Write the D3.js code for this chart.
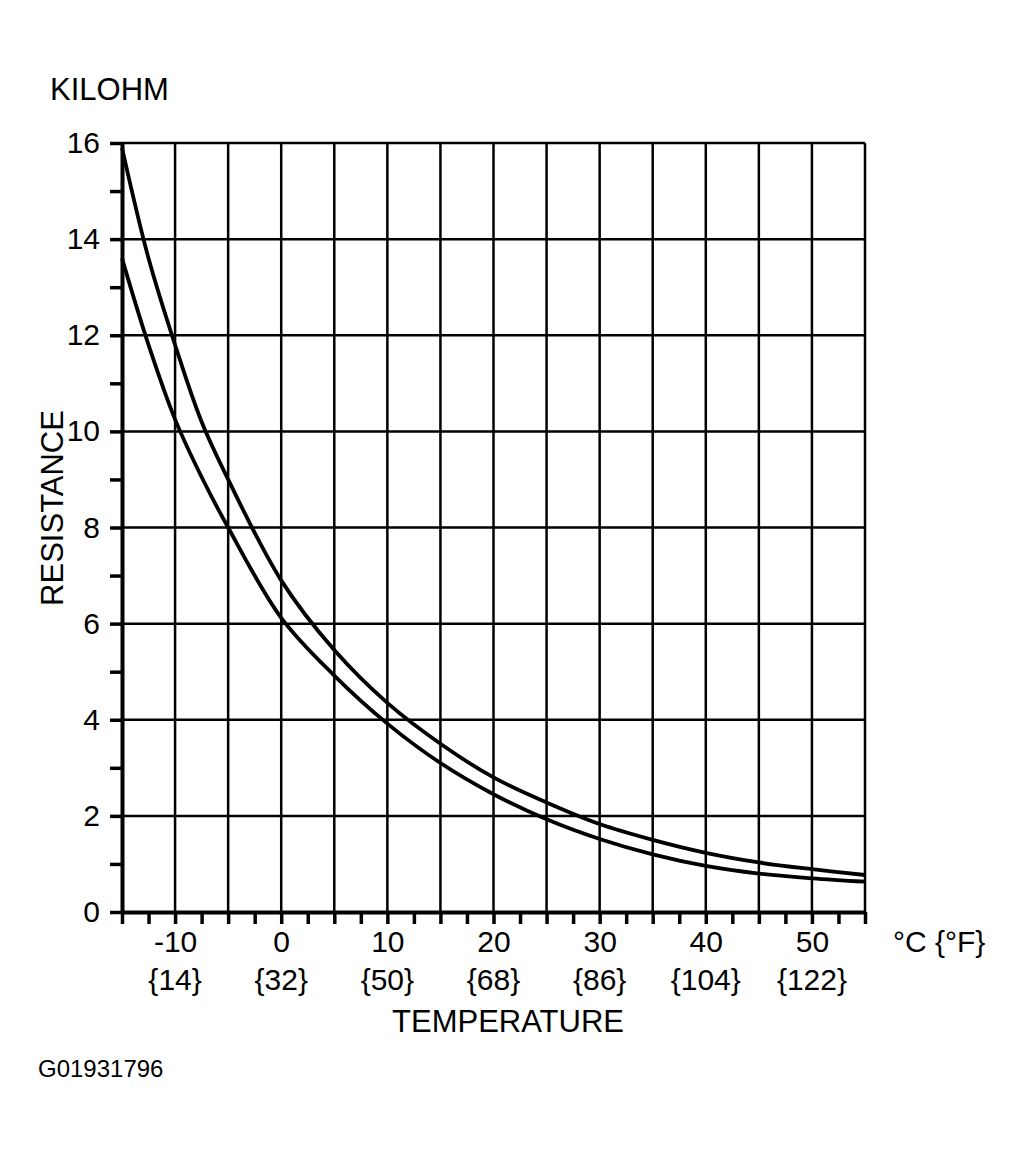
<!DOCTYPE html>
<html>
<head>
<meta charset="utf-8">
<script src="https://cdn.jsdelivr.net/npm/d3@7"></script>
<style>
  body { margin: 0; background: #fff; }
  text { font-family: "Liberation Sans", Arial, sans-serif; fill: #000; }
</style>
</head>
<body>
<div id="chart"></div>
<script>
// temperature (°C) and resistance (kilohm)
const tempC = [-15, -12.5, -10, -7.5, -5, 0, 5, 10, 15, 20, 25, 30, 35, 40, 45, 50, 55];
const upperK = [15.9, 13.6, 11.8, 10.2, 9.0, 6.9, 5.45, 4.35, 3.5, 2.8, 2.28, 1.83, 1.5, 1.23, 1.03, 0.89, 0.77];
const lowerK = [13.6, 11.8, 10.25, 9.05, 8.0, 6.12, 4.92, 3.92, 3.1, 2.45, 1.93, 1.52, 1.2, 0.96, 0.8, 0.7, 0.63];

const cTicks = [-10, 0, 10, 20, 30, 40, 50];
const fLabels = ["{14}", "{32}", "{50}", "{68}", "{86}", "{104}", "{122}"];

const margin = { top: 143, right: 163, bottom: 240, left: 122 },
    width = 1028 - margin.left - margin.right,
    height = 1152 - margin.top - margin.bottom;

const svg = d3.select("#chart").append("svg")
    .attr("width", 1028)
    .attr("height", 1152);

const g = svg.append("g")
    .attr("transform", "translate(" + margin.left + "," + margin.top + ")");

const x = d3.scaleLinear().domain([-15, 55]).range([0, width]);
const y = d3.scaleLinear().domain([0, 16]).range([height, 0]);

// grid
g.append("g").selectAll("line")
    .data(d3.range(-10, 56, 5))
    .enter().append("line")
    .attr("x1", d => x(d)).attr("x2", d => x(d))
    .attr("y1", y(0)).attr("y2", y(16))
    .attr("stroke", "#000").attr("stroke-width", 2.5);

g.append("g").selectAll("line")
    .data(d3.range(2, 17, 2))
    .enter().append("line")
    .attr("x1", 0).attr("x2", width)
    .attr("y1", d => y(d)).attr("y2", d => y(d))
    .attr("stroke", "#000").attr("stroke-width", 2.5);

// axes
const yAxis = d3.axisLeft(y)
    .tickValues(d3.range(0, 16.1, 1))
    .tickSizeInner(12).tickSizeOuter(0).tickPadding(10)
    .tickFormat(d => d % 2 === 0 ? d : "");

const xAxis = d3.axisBottom(x)
    .tickValues(d3.range(-15, 55.1, 2.5))
    .tickSizeInner(12).tickSizeOuter(0).tickPadding(7)
    .tickFormat(d => d % 10 === 0 ? d : "");

const ya = g.append("g").call(yAxis);
const xa = g.append("g").attr("transform", "translate(0," + height + ")").call(xAxis);

[ya, xa].forEach(a => {
    a.select(".domain").attr("stroke", "#000").attr("stroke-width", 4);
    a.selectAll(".tick line").attr("stroke", "#000").attr("stroke-width", 3.5);
    a.selectAll(".tick text").attr("font-size", 30).attr("font-family", "Liberation Sans, Arial, sans-serif").attr("fill", "#000");
});

// fahrenheit row
xa.append("g").selectAll("text")
    .data(cTicks)
    .enter().append("text")
    .attr("x", d => x(d))
    .attr("y", 78)
    .attr("text-anchor", "middle")
    .attr("font-size", 30)
    .text((d, i) => fLabels[i]);

// curves
const line = d3.line()
    .x(d => x(d[0]))
    .y(d => y(d[1]))
    .curve(d3.curveCatmullRom.alpha(0.5));

[upperK, lowerK].forEach(vals => {
    g.append("path")
        .datum(tempC.map((t, i) => [t, vals[i]]))
        .attr("fill", "none")
        .attr("stroke", "#000")
        .attr("stroke-width", 3.8)
        .attr("d", line);
});

// labels
svg.append("text").attr("x", 50).attr("y", 100).attr("font-size", 31).text("KILOHM");

svg.append("text")
    .attr("transform", "translate(63,508) rotate(-90)")
    .attr("text-anchor", "middle")
    .attr("font-size", 31)
    .text("RESISTANCE");

svg.append("text").attr("x", 893).attr("y", 952).attr("font-size", 30).text("°C {°F}");

svg.append("text")
    .attr("x", 508).attr("y", 1032)
    .attr("text-anchor", "middle")
    .attr("font-size", 31)
    .text("TEMPERATURE");

svg.append("text").attr("x", 38).attr("y", 1077).attr("font-size", 24).text("G01931796");
</script>
</body>
</html>
